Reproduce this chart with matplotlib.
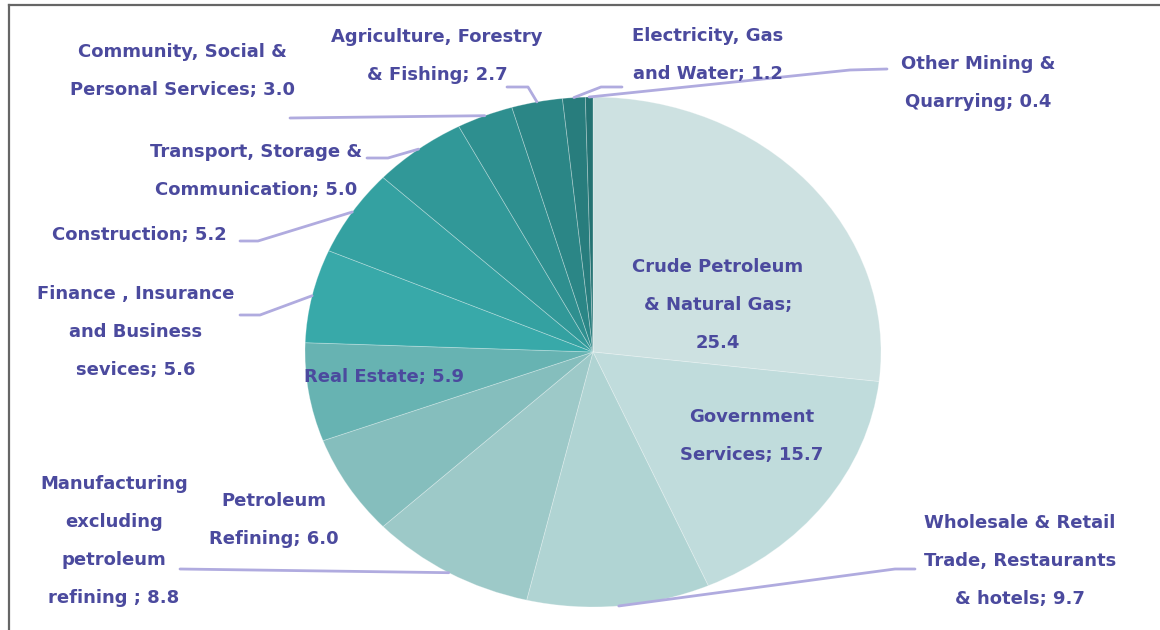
import numpy as np
import matplotlib.pyplot as plt

# sectors, clockwise from 12 o'clock
sectors = [
    "Crude Petroleum\n& Natural Gas;\n25.4",
    "Government\nServices; 15.7",
    "Wholesale & Retail\nTrade, Restaurants\n& hotels; 9.7",
    "Manufacturing\nexcluding\npetroleum\nrefining ; 8.8",
    "Petroleum\nRefining; 6.0",
    "Real Estate; 5.9",
    "Finance , Insurance\nand Business\nsevices; 5.6",
    "Construction; 5.2",
    "Transport, Storage &\nCommunication; 5.0",
    "Community, Social &\nPersonal Services; 3.0",
    "Agriculture, Forestry\n& Fishing; 2.7",
    "Electricity, Gas\nand Water; 1.2",
    "Other Mining &\nQuarrying; 0.4",
]
shares = [25.4, 15.7, 9.7, 8.8, 6.0, 5.9, 5.6, 5.2, 5.0, 3.0, 2.7, 1.2, 0.4]
colors = ["#cde1e1", "#c0dcdc", "#b0d4d3", "#9dc9c8", "#85bebd", "#67b3b2",
          "#38a9a9", "#34a1a1", "#319898", "#2e8f8f", "#2b8686", "#287d7d", "#247373"]

# label text centre (x, y of first line) in pixels, and leader elbow points
label_pos = [(718, 267), (752, 417), (1020, 523), (114, 484), (274, 501), (384, 377),
             (136, 294), (139, 235), (256, 152), (182, 52), (437, 37), (708, 36), (978, 64)]
leaders = {
    2: [(915, 569), (895, 569), (850, 575)],
    3: [(180, 569)],
    6: [(240, 315), (260, 315)],
    7: [(240, 241), (258, 241)],
    8: [(367, 158), (388, 158)],
    9: [(290, 118)],
    10: [(507, 87), (528, 87)],
    11: [(622, 87), (601, 87)],
    12: [(887, 69), (850, 70)],
}

text_color = "#4b4a9e"
line_color = "#b0abdf"

fig = plt.figure(figsize=(11.6, 6.3), dpi=100)

# pie axes stretched into an ellipse
W, H = 1160, 630
cx, cy, rx, ry = 593, 352, 288, 255
ax = fig.add_axes([(cx - rx) / W, 1 - (cy + ry) / H, 2 * rx / W, 2 * ry / H])
wedges, _ = ax.pie(shares, colors=colors, startangle=90, counterclock=False,
                   wedgeprops=dict(edgecolor=(1, 1, 1, 0.3), linewidth=0.6))
ax.set_aspect("auto")
ax.set_xlim(-1, 1)
ax.set_ylim(-1, 1)
ax.axis("off")

# overlay for labels, pixel coords
ov = fig.add_axes([0, 0, 1, 1], zorder=3)
ov.set_xlim(0, W)
ov.set_ylim(H, 0)
ov.axis("off")
ov.patch.set_alpha(0)

to_ov = ax.transData + ov.transData.inverted()
for i, (w, lab) in enumerate(zip(wedges, sectors)):
    x0, y0 = label_pos[i]
    for k, line in enumerate(lab.split("\n")):
        ov.text(x0, y0 + k * 38, line, ha="center", va="center", fontsize=13,
                fontweight="bold", family="DejaVu Sans", color=text_color)
    if i in leaders:
        mid = np.deg2rad((w.theta1 + w.theta2) / 2)
        ex, ey = to_ov.transform((np.cos(mid), np.sin(mid)))
        pts = leaders[i] + [(ex, ey)]
        ov.plot([p[0] for p in pts], [p[1] for p in pts], color=line_color, lw=2,
                solid_capstyle="round")

# page frame
ov.plot([9, W], [5, 5], color="#666666", lw=1.6)
ov.plot([9, 9], [5, H], color="#666666", lw=1.6)

fig.savefig("out.png", dpi=100)
